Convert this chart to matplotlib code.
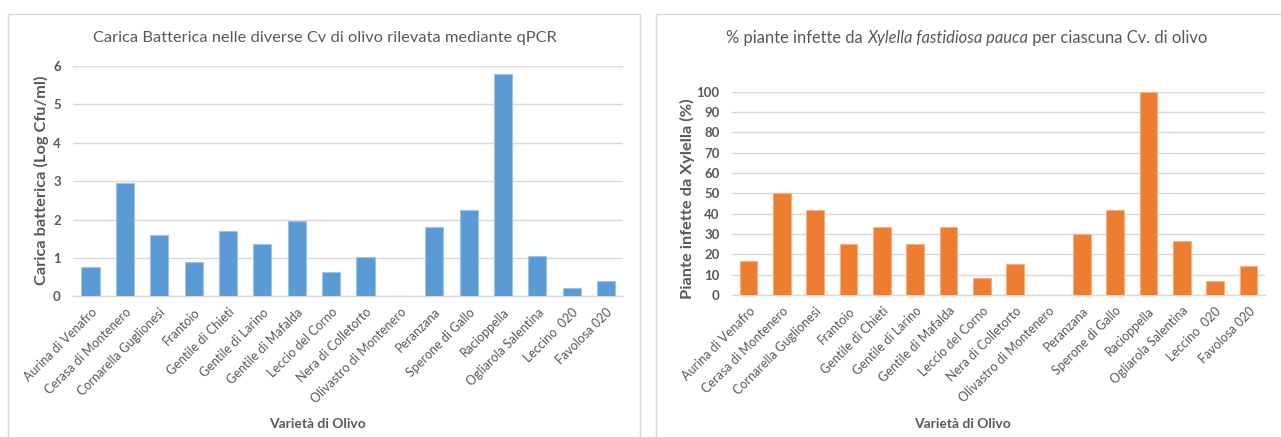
import matplotlib
matplotlib.use("Agg")
import matplotlib.pyplot as plt
from matplotlib.patches import Rectangle

plt.rcParams['font.family'] = ['Lato', 'DejaVu Sans']

# Olive cultivars (shared by both panels)
varieties = [
    "Aurina di Venafro", "Cerasa di Montenero", "Cornarella Guglionesi",
    "Frantoio", "Gentile di Chieti", "Gentile di Larino", "Gentile di Mafalda",
    "Leccio del Corno", "Nera di Colletorto", "Olivastro di Montenero",
    "Peranzana", "Sperone di Gallo", "Racioppella", "Ogliarola Salentina",
    "Leccino  020", "Favolosa 020",
]

# Bacterial load, Log Cfu/ml (qPCR)
bacterial_load = [0.76, 2.94, 1.59, 0.89, 1.70, 1.36, 1.95, 0.63, 1.03, 0.0,
                  1.80, 2.25, 5.78, 1.05, 0.22, 0.39]

# Share of infected plants, %
infected_pct = [16.7, 50.0, 41.7, 25.0, 33.3, 25.0, 33.3, 8.3, 15.4, 0.0,
                30.0, 41.7, 100.0, 26.5, 7.1, 14.3]

left_yticks = [0, 1, 2, 3, 4, 5, 6]
right_yticks = [0, 10, 20, 30, 40, 50, 60, 70, 80, 90, 100]

W, H = 1281, 437
fig = plt.figure(figsize=(W / 100, H / 100), dpi=100)
fig.patch.set_facecolor("white")

GRID = "#D9D9D9"
TXT = "#595959"


def fx(px):
    return px / W


def fy(py):
    return 1 - py / H


# Chart frames
for x0, x1 in [(8, 640), (656, 1285)]:
    fig.patches.append(Rectangle((fx(x0), fy(445)), fx(x1 - x0), (445 - 14) / H,
                                 transform=fig.transFigure, fill=False,
                                 edgecolor=GRID, linewidth=1.0, zorder=0))


def style_axes(ax, values, ticks, color, edge):
    x = list(range(len(values)))
    ax.bar(x, values, width=0.53, color=color, edgecolor=edge, linewidth=0.8,
           zorder=3)
    ax.set_xlim(-0.5, len(values) - 0.5)
    ax.set_ylim(ticks[0], ticks[-1])
    ax.set_yticks(ticks)
    ax.set_yticklabels([str(t) for t in ticks], fontsize=9.5,
                       fontweight="bold", color=TXT)
    ax.set_xticks(x)
    ax.set_xticklabels(varieties, rotation=45, ha="right",
                       rotation_mode="anchor", fontsize=9, color=TXT)
    ax.tick_params(axis="both", length=0)
    ax.tick_params(axis="y", pad=9)
    ax.tick_params(axis="x", pad=7)
    ax.grid(axis="y", color=GRID, linewidth=1.0, zorder=0)
    ax.set_axisbelow(True)
    for s in ["top", "right", "left"]:
        ax.spines[s].set_visible(False)
    ax.spines["bottom"].set_color(GRID)
    ax.spines["bottom"].set_linewidth(1.0)
    ax.set_facecolor("none")


# Left panel: bacterial load
ax1 = fig.add_axes([fx(73.3), fy(296.3), fx(623.3 - 73.3), (296.3 - 66) / H])
style_axes(ax1, bacterial_load, left_yticks, "#5B9BD5", "#9DC3E6")

# Right panel: infected plants
ax2 = fig.add_axes([fx(732), fy(295), fx(1265 - 732), (295 - 91.7) / H])
style_axes(ax2, infected_pct, right_yticks, "#ED7D31", "#F4B183")

# Axis titles
fig.text(fx(41), fy(180), "Carica batterica (Log Cfu/ml)", rotation=90,
         ha="center", va="center", fontsize=11.8, fontweight="bold", color=TXT)
fig.text(fx(687), fy(199), "Piante infette da Xylella (%)", rotation=90,
         ha="center", va="center", fontsize=11.8, fontweight="bold", color=TXT)
fig.text(fx(317), fy(424), "Varietà di Olivo", ha="center", va="center",
         fontsize=10, fontweight="bold", color=TXT)
fig.text(fx(962), fy(424), "Varietà di Olivo", ha="center", va="center",
         fontsize=10, fontweight="bold", color=TXT)

# Chart titles
fig.text(fx(325), fy(38), "Carica Batterica nelle diverse Cv di olivo rilevata mediante qPCR",
         ha="center", va="center", fontsize=11.8, color=TXT)

pieces = [("% piante infette da ", "normal"),
          ("Xylella fastidiosa pauca", "italic"),
          (" per ciascuna Cv. di olivo", "normal")]
texts = [fig.text(0, fy(38), s, ha="left", va="center", fontsize=11.9,
                  style=st, color=TXT) for s, st in pieces]
fig.canvas.draw()
renderer = fig.canvas.get_renderer()
widths = [t.get_window_extent(renderer).width for t in texts]
start = 967 - sum(widths) / 2
for t, w in zip(texts, widths):
    t.set_x(fx(start))
    start += w

fig.savefig("out.png", dpi=100, facecolor="white")
